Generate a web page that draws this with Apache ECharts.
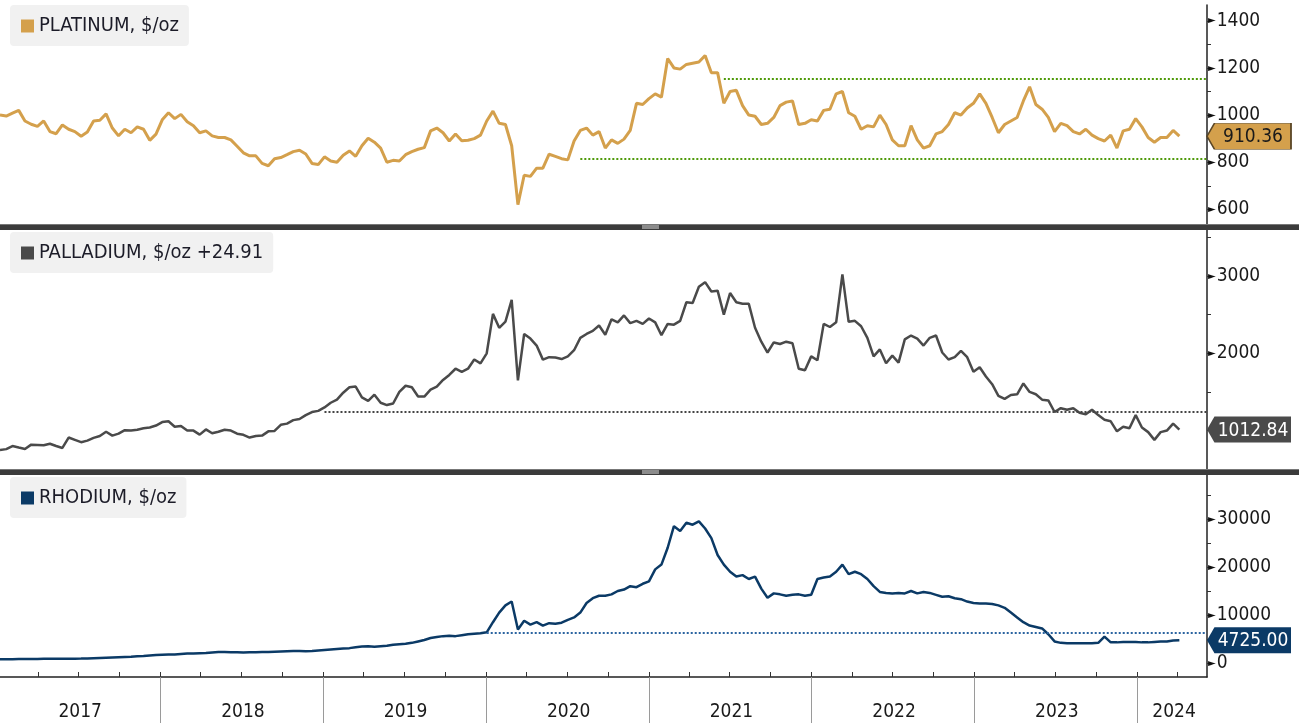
<!DOCTYPE html>
<html>
<head>
<meta charset="utf-8">
<script src="https://cdn.jsdelivr.net/npm/echarts@6.0.0/dist/echarts.min.js"></script>
<style>
  html, body { margin: 0; padding: 0; background: #fff; }
  #root { width: 1299px; height: 723px; }
</style>
</head>
<body>
<div id="root"></div>
<script>
// two-weekly closes, first point 2017-01-06
const platinum = [
  1000, 996, 1008, 1020, 975, 961, 952, 975, 930, 921,
  958, 940, 930, 910, 928, 975, 978, 1005, 945, 912,
  940, 925, 950, 940, 893, 919, 980, 1010, 985, 1003,
  972, 955, 925, 933, 912, 905, 905, 895, 868, 840,
  827, 827, 795, 785, 815, 820, 832, 845, 851, 835,
  795, 790, 823, 805, 800, 830, 848, 825, 870, 902,
  885, 860, 800, 808, 805, 832, 845, 855, 862, 933,
  945, 925, 890, 920, 891, 893, 900, 915, 975, 1017,
  965, 960, 870, 620, 745, 740, 775, 775, 834, 825,
  815, 810, 890, 935, 945, 915, 930, 860, 895, 880,
  898, 935, 1050, 1045, 1070, 1090, 1076, 1240, 1200, 1195,
  1215, 1220, 1225, 1253, 1180, 1180, 1050, 1100, 1105, 1040,
  1000, 995, 960, 965, 990, 1040, 1055, 1060, 960, 965,
  980, 975, 1020, 1025, 1090, 1100, 1010, 995, 940, 955,
  950, 1000, 960, 895, 870, 870, 955, 895, 860, 870,
  920, 930, 960, 1010, 1000, 1030, 1050, 1090, 1050, 990,
  925, 960, 975, 990, 1060, 1120, 1045, 1025, 990, 930,
  965, 955, 930, 920, 940, 915, 900, 890, 915, 860,
  933, 940, 985, 950, 905, 885, 905, 905, 935, 910.36
]
const palladium = [
  750, 760, 800, 780, 762, 818, 815, 810, 830, 800,
  775, 910, 880, 850, 870, 905, 930, 985, 935, 960,
  1005, 1000, 1010, 1030, 1040, 1065, 1110, 1120, 1050, 1060,
  1000, 1000, 948, 1015, 965, 985, 1010, 1000, 960, 945,
  910, 930, 935, 990, 995, 1075, 1090, 1135, 1150, 1200,
  1240, 1255, 1300, 1360, 1400, 1490, 1560, 1570, 1430, 1385,
  1465, 1360, 1330, 1350, 1500, 1580, 1560, 1440, 1440, 1530,
  1570, 1655, 1720, 1800, 1760, 1800, 1920, 1870, 2000, 2510,
  2330, 2410, 2690, 1650, 2250, 2190, 2100, 1918, 1950, 1945,
  1925, 1960, 2040, 2200, 2250, 2290, 2360, 2240, 2440, 2400,
  2490, 2390, 2420, 2380, 2450, 2400, 2234, 2380, 2370, 2420,
  2660, 2650, 2860, 2920, 2800, 2810, 2500, 2780, 2660, 2640,
  2640, 2330, 2150, 2010, 2140, 2120, 2150, 2130, 1800, 1780,
  1960, 1910, 2380, 2340, 2400, 3020, 2407, 2420, 2350, 2200,
  1960, 2050, 1870, 1970, 1880, 2180, 2230, 2190, 2100, 2200,
  2230, 2010, 1920, 1950, 2030, 1950, 1760, 1820, 1700, 1600,
  1450, 1410, 1460, 1470, 1610, 1500, 1470, 1400, 1390, 1240,
  1290, 1270, 1290, 1230, 1210, 1270, 1200, 1140, 1120, 990,
  1050, 1030, 1200, 1040, 980, 880, 980, 1000, 1090, 1012.84
]
const rhodium = [
  780, 780, 800, 820, 830, 850, 860, 880, 900, 900,
  900, 880, 900, 920, 950, 1000, 1050, 1100, 1150, 1200,
  1250, 1300, 1400, 1450, 1550, 1650, 1700, 1750, 1800, 1900,
  2000, 2000, 2050, 2100, 2200, 2300, 2300, 2250, 2250, 2200,
  2250, 2250, 2300, 2300, 2350, 2400, 2450, 2500, 2500, 2450,
  2500, 2600, 2700, 2800, 2900, 3000, 3100, 3300, 3450, 3500,
  3400, 3500, 3600, 3800, 3900, 4000, 4200, 4500, 4800, 5200,
  5400, 5600, 5700, 5600, 5800, 6000, 6100, 6200, 6400, 8500,
  10500, 12000, 12800, 7000, 8800, 8000, 8500, 7800, 8300, 8200,
  8400, 9000, 9500, 10500, 12500, 13500, 14000, 14000, 14300, 15000,
  15300, 16000, 15800, 16500, 17000, 19500, 20500, 24000, 28500, 27500,
  29200, 28800, 29500, 28000, 26000, 22500, 20500, 19000, 18000, 18300,
  17500, 18000, 15500, 13600, 14500, 14300, 14000, 14200, 14300, 14000,
  14200, 17500, 17800, 18000, 19000, 20500, 18500, 19000, 18500, 17500,
  16000, 14800, 14600, 14500, 14600, 14500, 15000, 14500, 14800, 14600,
  14200, 13800, 13900, 13500, 13300, 12800, 12500, 12400, 12400, 12300,
  12000, 11500, 10500, 9500, 8500, 7800, 7500, 7200, 6000, 4500,
  4200, 4100, 4100, 4100, 4100, 4100, 4200, 5500, 4300, 4300,
  4400, 4400, 4400, 4300, 4300, 4400, 4500, 4500, 4700, 4725
]

// dotted reference levels: [value, index of first date]
const platinumLevels = [[1155, 116], [815, 93]]
const palladiumLevels = [[1250, 52]]
const rhodiumLevels = [[6300, 78]]

const platinumTicks = [600, 700, 800, 900, 1000, 1100, 1200, 1300, 1400]
const platinumLabels = [600, 800, 1000, 1200, 1400]
const palladiumTicks = [500, 1000, 1500, 2000, 2500, 3000, 3500]
const palladiumLabels = [2000, 3000]
const rhodiumTicks = [0, 5000, 10000, 15000, 20000, 25000, 30000, 35000]
const rhodiumLabels = [0, 10000, 20000, 30000]

const yearLabels = ['2017', '2018', '2019', '2020', '2021', '2022', '2023', '2024']

const dates = platinum.map((_, i) => new Date(2017, 0, 6 + 14 * i).getTime())
const axisMin = new Date(2017, 0, 6).getTime()
const axisMax = new Date(2024, 5, 6).getTime()

const yearStarts = yearLabels.slice(1).map(y => new Date(+y, 0, 1).getTime())
const yearMids = yearLabels.map(y => +y < 2024 ? new Date(+y, 6, 5).getTime() : new Date(2024, 2, 24).getTime())
const quarterTicks = []
yearLabels.forEach(y => {
  [0, 3, 6, 9].forEach(m => {
    const t = new Date(+y, m, 1).getTime()
    if (t > axisMin && t < axisMax) quarterTicks.push(t)
  })
})

const FONT = '"DejaVu Sans Condensed", "DejaVu Sans", sans-serif'

const chart = echarts.init(document.getElementById('root'))

function pairs (values) {
  return values.map((v, i) => [dates[i], v])
}

function hiddenX (grid) {
  return { type: 'time', gridIndex: grid, min: axisMin, max: axisMax, show: false }
}

function rightAxis (grid, min, max, ticks, labels) {
  return {
    type: 'value',
    gridIndex: grid,
    position: 'right',
    min: min,
    max: max,
    splitLine: { show: false },
    axisLine: { show: true, onZero: false, lineStyle: { color: '#222', width: 1.5 } },
    axisTick: { show: true, length: 4, customValues: ticks, lineStyle: { color: '#333' } },
    axisLabel: {
      margin: 1,
      customValues: labels,
      formatter: v => '{a|►}{b|' + v + '}',
      rich: {
        a: { fontSize: 10, color: '#111', fontFamily: 'DejaVu Sans' },
        b: { fontSize: 19, color: '#1a1a1a', fontFamily: FONT, padding: [0, 0, 0, 1] }
      }
    }
  }
}

function levelLines (levels, color) {
  return {
    silent: true,
    symbol: 'none',
    label: { show: false },
    lineStyle: { color: color, type: [2, 2], width: 2 },
    data: levels.map(l => [{ coord: [dates[l[1]], l[0]] }, { coord: [axisMax, l[0]] }])
  }
}

function tag (values, bg, fg, border) {
  const last = values[values.length - 1]
  return {
    silent: true,
    symbol: 'path://M0,13 L8,0 L90,0 L90,26 L8,26 Z',
    symbolSize: [84, 26],
    symbolKeepAspect: false,
    symbolOffset: [42, 0],
    itemStyle: { color: bg, borderColor: border || bg, borderWidth: border ? 1 : 0 },
    label: {
      show: true,
      position: 'inside',
      offset: [4, 1],
      color: fg,
      fontSize: 19,
      fontFamily: FONT,
      formatter: p => p.value.toFixed(2)
    },
    data: [{ coord: [axisMax, last], value: last }]
  }
}

function header (text, color, top) {
  return {
    left: 10,
    top: top,
    text: '{s|}{t|' + text + '}',
    backgroundColor: '#f1f1f1',
    borderRadius: 4,
    padding: [11, 10, 10, 11],
    textStyle: {
      fontWeight: 'normal',
      rich: {
        s: { width: 13, height: 13, backgroundColor: color },
        t: { fontSize: 20, fontWeight: 'normal', color: '#1c1c28', fontFamily: FONT, padding: [0, 0, 0, 5] }
      }
    }
  }
}

function separator (y) {
  return [
    { type: 'rect', z: 100, shape: { x: 0, y: y, width: 1299, height: 6 }, style: { fill: '#3b3b3b' } },
    { type: 'rect', z: 101, shape: { x: 0, y: y, width: 1299, height: 1 }, style: { fill: '#777' } },
    { type: 'rect', z: 102, shape: { x: 642, y: y + 1, width: 17, height: 4 }, style: { fill: '#8c8c8c' } }
  ]
}

const option = {
  animation: false,
  textStyle: { fontFamily: FONT },
  title: [
    header('PLATINUM, $/oz', '#D4A04C', 5),
    header('PALLADIUM, $/oz +24.91', '#4a4a4a', 232),
    header('RHODIUM, $/oz', '#0b3a66', 477)
  ],
  grid: [
    { left: 0, right: 92, top: 5, height: 219 },
    { left: 0, right: 92, top: 230, height: 240 },
    { left: 0, right: 92, top: 475, height: 202 },
    { left: 0, right: 92, top: 677, height: 46 }
  ],
  xAxis: [
    hiddenX(0),
    hiddenX(1),
    hiddenX(2),
    {
      // timestamps on a plain value scale, so custom tick positions work
      type: 'value',
      gridIndex: 3,
      position: 'top',
      min: axisMin,
      max: axisMax,
      splitLine: { show: false },
      axisLine: { show: true, onZero: false, lineStyle: { color: '#222', width: 1.5 } },
      axisTick: { show: true, inside: false, length: 5, customValues: quarterTicks, lineStyle: { color: '#333' } },
      axisLabel: {
        inside: true,
        margin: 26,
        customValues: yearMids,
        fontSize: 19,
        color: '#1a1a1a',
        fontFamily: FONT,
        formatter: v => String(new Date(v).getFullYear())
      }
    }
  ],
  yAxis: [
    rightAxis(0, 538, 1467, platinumTicks, platinumLabels),
    rightAxis(1, 490, 3595, palladiumTicks, palladiumLabels),
    rightAxis(2, -2910, 39150, rhodiumTicks, rhodiumLabels),
    { type: 'value', gridIndex: 3, min: 0, max: 1, show: false }
  ],
  series: [
    {
      type: 'line',
      xAxisIndex: 0,
      yAxisIndex: 0,
      data: pairs(platinum),
      showSymbol: false,
      lineStyle: { color: '#D4A04C', width: 3 },
      markLine: levelLines(platinumLevels, '#4f9a0a'),
      markPoint: tag(platinum, '#D4A04C', '#1a1a1a', '#5a4626')
    },
    {
      type: 'line',
      xAxisIndex: 1,
      yAxisIndex: 1,
      data: pairs(palladium),
      showSymbol: false,
      lineStyle: { color: '#4a4a4a', width: 2.5 },
      markLine: levelLines(palladiumLevels, '#444'),
      markPoint: tag(palladium, '#4a4a4a', '#ffffff')
    },
    {
      type: 'line',
      xAxisIndex: 2,
      yAxisIndex: 2,
      data: pairs(rhodium),
      showSymbol: false,
      lineStyle: { color: '#0b3a66', width: 2.5 },
      markLine: levelLines(rhodiumLevels, '#2b64a0'),
      markPoint: tag(rhodium, '#0b3a66', '#ffffff')
    },
    {
      type: 'line',
      xAxisIndex: 3,
      yAxisIndex: 3,
      data: [],
      markLine: {
        silent: true,
        symbol: 'none',
        label: { show: false },
        lineStyle: { color: '#9a9a9a', type: 'solid', width: 1 },
        data: yearStarts.map(t => ({ xAxis: t }))
      }
    }
  ],
  graphic: separator(224).concat(separator(469))
}

chart.setOption(option)
</script>
</body>
</html>
